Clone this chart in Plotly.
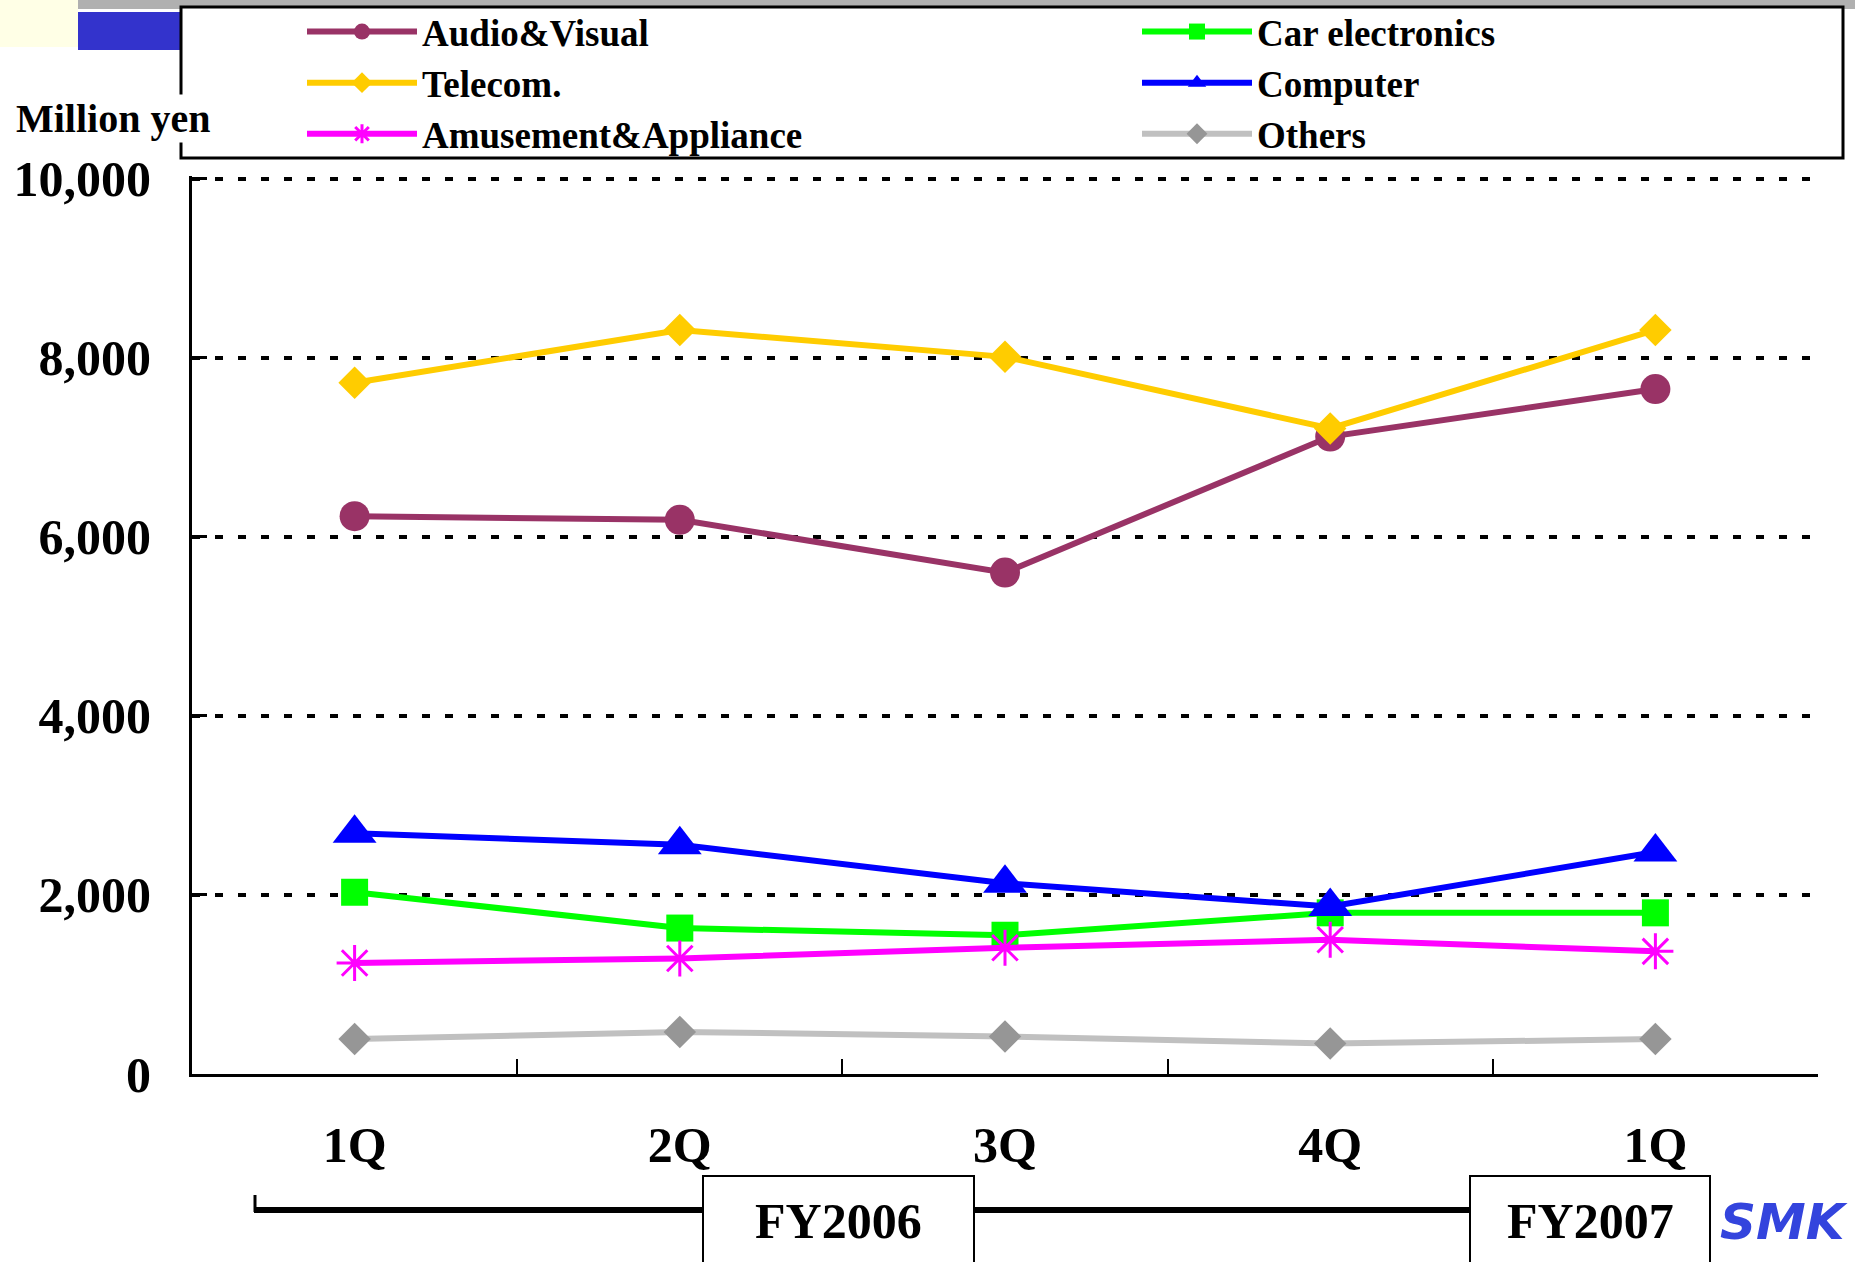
import plotly.graph_objects as go

quarters = ["1Q", "2Q", "3Q", "4Q", "1Q "]
quarter_labels = ["1Q", "2Q", "3Q", "4Q", "1Q"]

audio_visual = [6230, 6190, 5600, 7120, 7650]
car_electronics = [2030, 1630, 1550, 1800, 1800]
telecom = [7720, 8310, 8010, 7210, 8310]
computer = [2690, 2560, 2130, 1870, 2480]
amusement = [1240, 1290, 1410, 1500, 1370]
others = [390, 470, 420, 340, 390]

y_ticks = [0, 2000, 4000, 6000, 8000, 10000]
y_tick_text = ["0", "2,000", "4,000", "6,000", "8,000", "10,000"]

FONT = "Liberation Serif"

series = [
    ("Audio&Visual", audio_visual, "#993366", "legend",
     dict(symbol="circle", size=30, color="#993366")),
    ("Car electronics", car_electronics, "#00FF00", "legend2",
     dict(symbol="square", size=27, color="#00FF00")),
    ("Telecom.", telecom, "#FFCC00", "legend",
     dict(symbol="diamond", size=25, color="#FFCC00")),
    ("Computer", computer, "#0000FF", "legend2",
     dict(symbol="triangle-up", size=38, color="#0000FF")),
    ("Amusement&Appliance", amusement, "#FF00FF", "legend",
     dict(symbol="asterisk-open", size=30, color="#FF00FF", line=dict(color="#FF00FF", width=3))),
    ("Others", others, "#C0C0C0", "legend2",
     dict(symbol="diamond", size=25, color="#969696")),
]

fig = go.Figure()
for name, vals, col, lg, mk in series:
    fig.add_trace(go.Scatter(
        x=quarters, y=vals, name=name, mode="lines+markers", legend=lg,
        line=dict(color=col, width=6), marker=mk,
    ))

W, H = 1855, 1262
L, R, T, B = 192, 37, 176, 188
pw, ph = W - L - R, H - T - B

def px(x):
    return (x - L) / pw

def py(y):
    return (H - B - y) / ph

legend_common = dict(
    orientation="v", xanchor="left", yanchor="top",
    font=dict(family=FONT, size=37, color="black", weight="bold"),
    bgcolor="rgba(0,0,0,0)", borderwidth=0, traceorder="normal",
    itemwidth=110, tracegroupgap=0,
)

fig.update_layout(
    width=W, height=H,
    margin=dict(l=L, r=R, t=T, b=B, autoexpand=False),
    paper_bgcolor="white", plot_bgcolor="white",
    font=dict(family=FONT, color="black"),
    showlegend=True,
    legend=dict(x=px(302), y=py(1), **legend_common),
    legend2=dict(x=px(1137), y=py(1), **legend_common),
    xaxis=dict(
        type="category", categoryorder="array", categoryarray=quarters,
        tickmode="array", tickvals=quarters, ticktext=quarter_labels,
        tickson="boundaries", ticks="inside", ticklen=15, tickwidth=2, tickcolor="black",
        showline=True, linecolor="black", linewidth=3,
        showgrid=False, zeroline=False,
        tickfont=dict(family=FONT, size=50, color="black", weight="bold"),
        ticklabelstandoff=25,
        range=[-0.5, 4.5],
    ),
    yaxis=dict(
        range=[0, 10030], tickmode="array", tickvals=y_ticks, ticktext=y_tick_text,
        ticks="inside", ticklen=15, tickwidth=3, tickcolor="black",
        showline=True, linecolor="black", linewidth=3,
        showgrid=True, gridcolor="black", gridwidth=4, griddash="8px,15px",
        zeroline=False,
        tickfont=dict(family=FONT, size=50, color="black", weight="bold"),
        ticklabelstandoff=28,
    ),
)

shapes = []
# top decorative bar and blue square
shapes.append(dict(type="rect", xref="paper", yref="paper", x0=px(40), x1=px(1855), y0=py(0), y1=py(9),
                   fillcolor="#B0B0B0", line=dict(width=0), layer="below"))
shapes.append(dict(type="rect", xref="paper", yref="paper", x0=px(0), x1=px(78), y0=py(0), y1=py(47),
                   fillcolor="#FFFFE6", line=dict(width=0), layer="below"))
shapes.append(dict(type="rect", xref="paper", yref="paper", x0=px(78), x1=px(180), y0=py(12), y1=py(50),
                   fillcolor="#3333CC", line=dict(width=0), layer="below"))
# legend box
shapes.append(dict(type="rect", xref="paper", yref="paper", x0=px(181), x1=px(1843), y0=py(7), y1=py(158),
                   fillcolor="white", line=dict(color="black", width=3), layer="below"))
# fiscal year bracket
shapes.append(dict(type="line", xref="paper", yref="paper", x0=px(254), x1=px(1470), y0=py(1210), y1=py(1210),
                   line=dict(color="black", width=6)))
shapes.append(dict(type="line", xref="paper", yref="paper", x0=px(255), x1=px(255), y0=py(1195), y1=py(1212),
                   line=dict(color="black", width=3)))
shapes.append(dict(type="rect", xref="paper", yref="paper", x0=px(703), x1=px(974), y0=py(1176), y1=py(1266),
                   fillcolor="white", line=dict(color="black", width=2)))
shapes.append(dict(type="rect", xref="paper", yref="paper", x0=px(1470), x1=px(1710), y0=py(1176), y1=py(1266),
                   fillcolor="white", line=dict(color="black", width=2)))
fig.update_layout(shapes=shapes)

annotations = [
    dict(text="Million yen", xref="paper", yref="paper", x=px(14), y=py(118), xanchor="left", yanchor="middle",
         showarrow=False, bgcolor="white", font=dict(family=FONT, size=40, color="black", weight="bold")),
    dict(text="FY2006", xref="paper", yref="paper", x=px(838), y=py(1221), xanchor="center", yanchor="middle",
         showarrow=False, font=dict(family=FONT, size=50, color="black", weight="bold")),
    dict(text="FY2007", xref="paper", yref="paper", x=px(1590), y=py(1221), xanchor="center", yanchor="middle",
         showarrow=False, font=dict(family=FONT, size=50, color="black", weight="bold")),
    dict(text="<i>SMK</i>", xref="paper", yref="paper", x=px(1718), y=py(1222), xanchor="left", yanchor="middle",
         showarrow=False, font=dict(family="DejaVu Sans", size=50, color="#3344DD", weight="bold")),
]
fig.update_layout(annotations=annotations)

fig.write_html("out.html", config={"displayModeBar": False},
               post_script="document.body.style.margin='0px';")
